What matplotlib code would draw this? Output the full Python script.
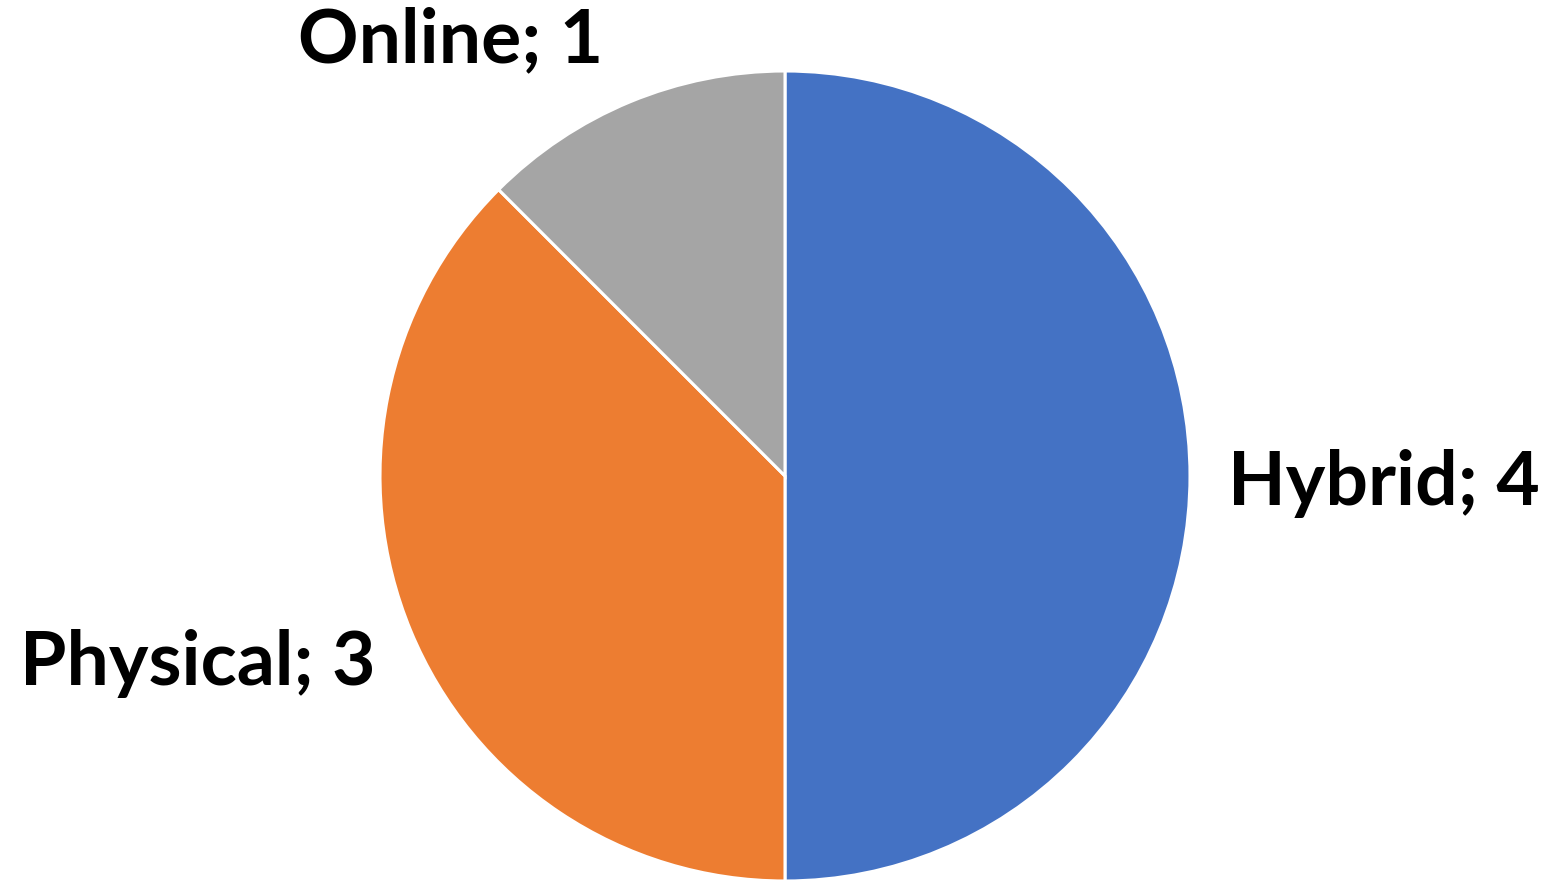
import matplotlib.pyplot as plt

labels = ['Hybrid', 'Physical', 'Online']
values = [4, 3, 1]
colors = ['#4472C4', '#ED7D31', '#A5A5A5']

fig = plt.figure(figsize=(15.47, 8.82), dpi=100)
ax = fig.add_axes([0, 0, 1, 1])

ax.pie(values, colors=colors, startangle=90, counterclock=False,
       radius=1.0, wedgeprops=dict(edgecolor='white', linewidth=2.2))

# limits chosen so the pie sits where it does in the original (405 px radius)
ax.set_xlim(-785 / 405, (1547 - 785) / 405)
ax.set_ylim(-(882 - 476) / 405, 476 / 405)
ax.set_aspect('auto')
ax.axis('off')

font = dict(family='Lato', weight='bold', size=54, color='black')
ax.text(1.094, -0.072, f'{labels[0]}; {values[0]}', ha='left', va='baseline', **font)
ax.text(-1.012, -0.516, f'{labels[1]}; {values[1]}', ha='right', va='baseline', **font)
ax.text(-0.825, 1.022, f'{labels[2]}; {values[2]}', ha='center', va='baseline', **font)

fig.savefig('out.png', dpi=100)
